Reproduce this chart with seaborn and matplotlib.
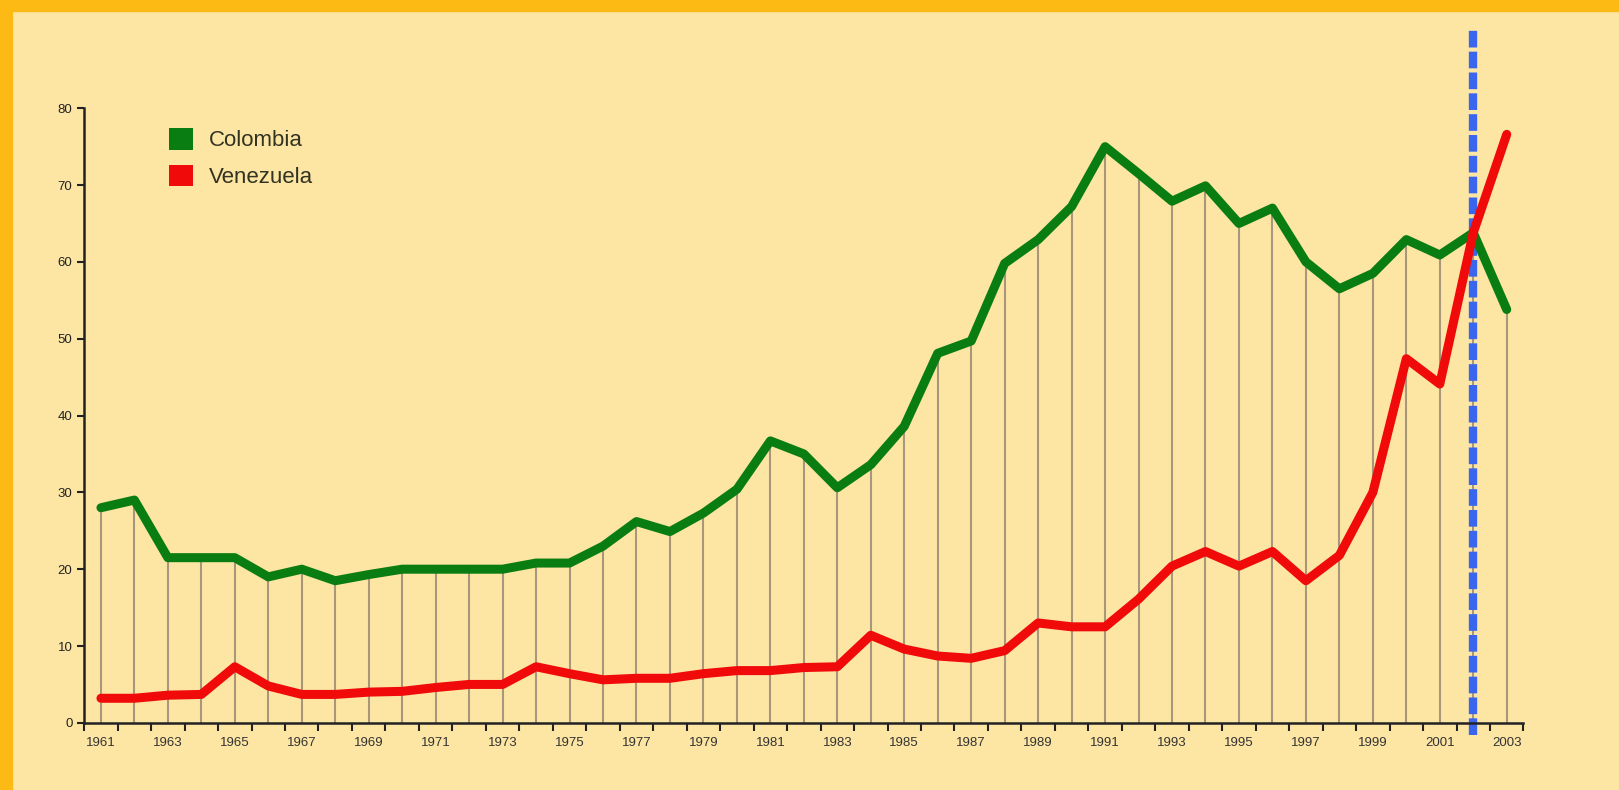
import matplotlib
matplotlib.use("Agg")
import matplotlib.pyplot as plt
from matplotlib.patches import Patch, Rectangle
import numpy as np
import pandas as pd
import seaborn as sns

years = list(range(1961, 2004))
colombia = [28, 29, 21.5, 21.5, 21.5, 19, 20, 18.5, 19.3, 20, 20, 20, 20, 20.8, 20.8,
            23, 26.2, 24.9, 27.3, 30.4, 36.7, 35, 30.6, 33.6, 38.6, 48.1, 49.7, 59.8,
            62.9, 67.2, 75, 71.5, 67.9, 69.9, 65, 67, 60, 56.5, 58.5, 62.9, 60.9, 63.8, 53.8]
venezuela = [3.2, 3.2, 3.6, 3.7, 7.3, 4.8, 3.7, 3.7, 4, 4.1, 4.6, 5, 5, 7.3, 6.4,
             5.6, 5.8, 5.8, 6.4, 6.8, 6.8, 7.2, 7.3, 11.4, 9.6, 8.7, 8.4, 9.4,
             13, 12.5, 12.5, 16.1, 20.4, 22.3, 20.4, 22.3, 18.5, 21.8, 30, 47.4, 44.1, 63.8, 76.6]
series_names = ["Colombia", "Venezuela"]
series_colors = ["#0a7d12", "#f00a0a"]
marker_year = 2002
yticks = list(range(0, 81, 10))

df = pd.DataFrame({
    "year": years * 2,
    "value": colombia + venezuela,
    "country": [series_names[0]] * len(years) + [series_names[1]] * len(years),
})

sns.set_style("ticks")
plt.rcParams["font.family"] = ["Liberation Sans", "DejaVu Sans"]

bg = "#fde6a4"
fig = plt.figure(figsize=(16.19, 7.90), dpi=100, facecolor=bg)
# orange frame strips on top and left
fig.patches.append(Rectangle((0, 0.986), 1, 0.014, transform=fig.transFigure,
                             color="#fdb914", zorder=0))
fig.patches.append(Rectangle((0, 0), 0.0075, 1, transform=fig.transFigure,
                             color="#fdb914", zorder=0))

ax = fig.add_axes([0.052, 0.085, 0.889, 0.778])
ax.set_facecolor(bg)

# drop lines from the Colombia line down to the axis
ax.vlines(years, 0, colombia, color="#a8977a", lw=1.5, zorder=1)

sns.lineplot(data=df, x="year", y="value", hue="country", palette=series_colors,
             hue_order=series_names, lw=6.5, legend=False, ax=ax, zorder=3)

ax.axvline(marker_year, ymin=-0.02, ymax=1.13, color="#3a66ee", lw=6,
           ls=(0, (2.0, 0.5)), clip_on=False, zorder=2.5)

ax.set_xlim(years[0] - 0.5, years[-1] + 0.5)
ax.set_ylim(0, 80)
ax.set_yticks(yticks)
ax.set_xticks(years[::2])
ax.set_xticks(np.arange(years[0] - 0.5, years[-1] + 1), minor=True)
ax.tick_params(axis="x", which="major", length=0, pad=10, labelsize=9.5, colors="#333333")
ax.tick_params(axis="x", which="minor", length=6, width=1.5, direction="out", color="#222222")
ax.tick_params(axis="y", length=5, width=1.5, labelsize=9.5, colors="#333333")
ax.tick_params(axis="y", colors="#222222")
ax.set_xlabel("")
ax.set_ylabel("")
sns.despine(ax=ax)
for s in ["left", "bottom"]:
    ax.spines[s].set_linewidth(1.8)
    ax.spines[s].set_color("#222222")

handles = [Patch(facecolor=c, edgecolor="none") for c in series_colors]
ax.legend(handles, series_names, loc="upper left", bbox_to_anchor=(0.045, 1.0),
          frameon=False, fontsize=16, handlelength=1.1, handleheight=1.1,
          handletextpad=0.7, labelspacing=0.6, labelcolor="#333322")

fig.savefig("out.png", dpi=100, facecolor=bg)
